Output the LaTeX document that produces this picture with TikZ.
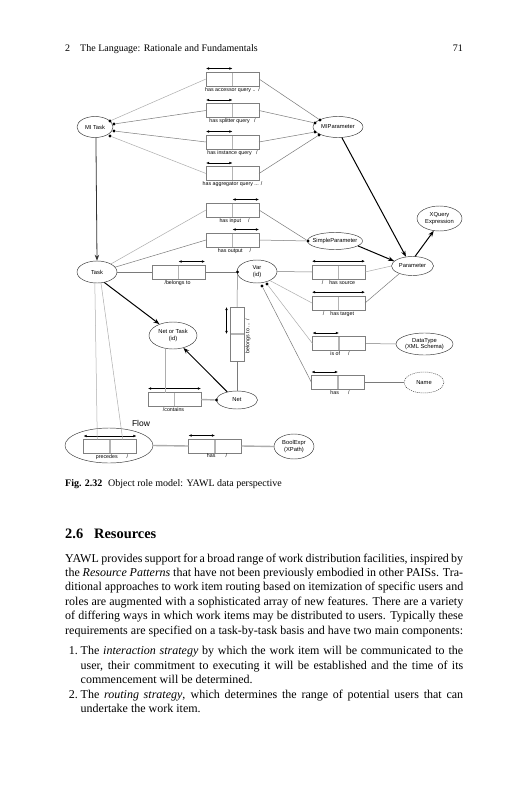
\documentclass[tikz,border=0pt]{standalone}
\usepackage{fontspec}
\setmainfont{Liberation Serif}
\newfontfamily\diagfont{Liberation Sans}
\usetikzlibrary{arrows.meta,calc,shapes.geometric}
\definecolor{boxgray}{HTML}{7F7F7F}
\definecolor{divgray}{HTML}{B4B4B4}
\definecolor{lngray}{HTML}{7A7A7A}
\definecolor{ltgray}{HTML}{ADADAD}
\begin{document}
\begin{tikzpicture}[x=1pt,y=-1pt,
  etext/.style={inner sep=0pt, align=center, font=\diagfont\fontsize{5.8}{6.6}\selectfont},
  ell/.style={ellipse, draw=black!80, line width=0.45pt, inner sep=0pt, label={[etext]center:{#1}}},
  rbox/.style={rectangle, draw=boxgray, line width=0.6pt, minimum width=53pt, minimum height=14pt, inner sep=0pt, outer sep=0pt,
    path picture={\draw[divgray, line width=1.3pt] (path picture bounding box.north) -- (path picture bounding box.south);}},
  vbox/.style={rectangle, draw=boxgray, line width=0.6pt, minimum width=14pt, minimum height=54pt, inner sep=0pt, outer sep=0pt,
    path picture={\draw[divgray, line width=1.3pt] (path picture bounding box.west) -- (path picture bounding box.east);}},
  lbl/.style={font=\diagfont\fontsize{5.3}{6}\selectfont, inner sep=0pt},
  role/.style={{Latex[length=3.2pt,width=2.6pt]}-{Latex[length=3.2pt,width=2.6pt]}, line width=0.5pt, black},
  sub/.style={-{Stealth[length=6pt,width=4.4pt]}, line width=1pt, black},
  dot/.style={circle, fill=black, inner sep=0pt, minimum size=3.4pt},
  conn/.style={draw=lngray, line width=0.5pt},
  lconn/.style={draw=ltgray, line width=0.5pt},
  tconn/.style={draw=ltgray, line width=1.4pt},
  rm/.style={inner sep=0pt, anchor=base west, font=\fontsize{12}{14.4}\selectfont},
  small/.style={inner sep=0pt, anchor=base west, font=\fontsize{10}{12}\selectfont},
]
\useasboundingbox[fill=white] (0,0) rectangle (527,800);

% ---------- running head ----------
\node[small] (hnum) at (65,51.5) {2};
\node[small] (htitle) at (80,51.5) {The Language: Rationale and Fundamentals};
\node[small, anchor=base east] (hpage) at (463,51.5) {71};

% ---------- ellipses ----------
\node[ell={MI Task}, minimum width=36pt, minimum height=21pt] (mit) at (95,127) {};
\node[ell={MIParameter}, minimum width=50pt, minimum height=21pt] (mip) at (338,127) {};
\node[ell={Task}, minimum width=40pt, minimum height=22pt] (task) at (97,272) {};
\node[ell={Var\\(id)}, minimum width=40pt, minimum height=23pt] (var) at (257,271.5) {};
\node[ell={Net or Task\\(id)}, minimum width=48pt, minimum height=27pt] (not) at (173,335.5) {};
\node[ell={Net}, minimum width=41pt, minimum height=18pt] (net) at (237,400) {};
\node[ell={}, minimum width=88pt, minimum height=35pt] (flow) at (109,445.5) {};
\node[ell={BoolExpr\\(XPath)}, minimum width=40pt, minimum height=25pt] (bool) at (294,446.5) {};
\node[ell={SimpleParameter}, minimum width=55pt, minimum height=17pt] (sp) at (335,241) {};
\node[ell={Parameter}, minimum width=42pt, minimum height=19pt] (par) at (412.5,266) {};
\node[ell={XQuery\\Expression}, minimum width=45pt, minimum height=25pt] (xq) at (439.5,218.5) {};
\node[ell={DataType\\(XML Schema)}, minimum width=57pt, minimum height=22pt] (dt) at (424.5,344) {};
\node[ell={Name}, minimum width=40pt, minimum height=21pt, dash pattern=on 1pt off 1pt] (name) at (424,382.5) {};
\node[inner sep=0pt, font=\diagfont\fontsize{8.5}{10}\selectfont] (flowlbl) at (141,423) {Flow};

% ---------- role boxes ----------
\node[rbox] (ba) at (232.5,79) {};
\node[rbox] (bb) at (232.5,110.5) {};
\node[rbox] (bc) at (232.5,142) {};
\node[rbox] (bd) at (232.5,173.5) {};
\node[rbox] (inp) at (232.5,210) {};
\node[rbox] (outp) at (232.5,240) {};
\node[rbox] (bel) at (178.5,272) {};
\node[vbox] (vb) at (237,334) {};
\node[rbox] (cont) at (174.5,399.5) {};
\node[rbox] (prec) at (110,446.5) {};
\node[rbox] (hasb) at (215,446) {};
\node[rbox] (src) at (338.5,272) {};
\node[rbox] (tgt) at (338.5,303) {};
\node[rbox] (isof) at (339,343.5) {};
\node[rbox] (hasn) at (338,382.5) {};

% role arrows
\draw[role] ([yshift=3.5pt]ba.north west) -- ([yshift=3.5pt]ba.north);
\draw[role] ([yshift=3.5pt]bb.north west) -- ([yshift=3.5pt]bb.north);
\draw[role] ([yshift=3.5pt]bc.north west) -- ([yshift=3.5pt]bc.north);
\draw[role] ([yshift=3.5pt]bd.north west) -- ([yshift=3.5pt]bd.north);
\draw[role] ([yshift=3.5pt]inp.north) -- ([yshift=3.5pt]inp.north east);
\draw[role] ([yshift=3.5pt]outp.north) -- ([yshift=3.5pt]outp.north east);
\draw[role] ([yshift=3.5pt]bel.north) -- ([yshift=3.5pt]bel.north east);
\draw[role] ([xshift=-3.5pt]vb.north west) -- ([xshift=-3.5pt]vb.west);
\draw[role] ([yshift=4pt]cont.north west) -- ([yshift=4pt]cont.north east);
\draw[role] ([yshift=3.5pt]prec.north west) -- ([yshift=3.5pt]prec.north east);
\draw[role] ([yshift=3.5pt]hasb.north west) -- ([yshift=3.5pt]hasb.north);
\draw[role] ([yshift=3.8pt]src.north west) -- ([yshift=3.8pt]src.north east);
\draw[role] ([yshift=3.8pt]tgt.north west) -- ([yshift=3.8pt]tgt.north east);
\draw[role] ([yshift=3.5pt]isof.north west) -- ([yshift=3.5pt]isof.north);
\draw[role] ([yshift=3.5pt]hasn.north west) -- ([yshift=3.5pt]hasn.north);

% role labels
\node[lbl, anchor=north] at ([yshift=-1.2pt]ba.south) {has accessor query .. \,/};
\node[lbl, anchor=north] at ([yshift=-1.2pt]bb.south) {has splitter query \ \ /};
\node[lbl, anchor=north] at ([yshift=-1.2pt]bc.south) {has instance query \ \ /};
\node[lbl, anchor=north] at ([yshift=-1.2pt]bd.south) {has aggregator query ... /};
\node[lbl, anchor=north] at ([xshift=2pt,yshift=-1.2pt]inp.south) {has input\hspace{7pt}/};
\node[lbl, anchor=north] at ([xshift=2pt,yshift=-1.2pt]outp.south) {has output\hspace{7pt}/};
\node[lbl, anchor=north] at ([xshift=-1pt,yshift=-1.2pt]bel.south) {/belongs to};
\node[lbl, rotate=90] at (248,336) {belongs to ... \,/};
\node[lbl, anchor=north] at ([xshift=-1pt,yshift=-1.2pt]cont.south) {/contains};
\node[lbl, anchor=north] at ([xshift=2pt,yshift=-1.2pt]prec.south) {precedes\hspace{9pt}/};
\node[lbl, anchor=north] at ([xshift=2pt,yshift=-0.6pt]hasb.south) {has\hspace{10pt}/};
\node[lbl, anchor=north] at ([yshift=-1.2pt]src.south) {/\hspace{6pt}has source};
\node[lbl, anchor=north] at ([yshift=-1.2pt]tgt.south) {/\hspace{6pt}has target};
\node[lbl, anchor=north] at ([xshift=1pt,yshift=-1.2pt]isof.south) {is of\hspace{8pt}/};
\node[lbl, anchor=north] at ([xshift=2pt,yshift=-1.2pt]hasn.south) {has\hspace{9pt}/};

% ---------- dots ----------
\node[dot] (d1) at (110,121) {};
\node[dot] (d2) at (114,124) {};
\node[dot] (d3) at (114,131) {};
\node[dot] (d4) at (110,136) {};
\node[dot] (e1) at (320,120) {};
\node[dot] (e2) at (315,123) {};
\node[dot] (e3) at (315,132) {};
\node[dot] (e4) at (319,135) {};
\node[dot] (v0) at (237.5,272) {};
\node[dot] (v1) at (267,284) {};
\node[dot] (v2) at (262,286) {};
\node[dot] (s0) at (308,241) {};
\node[dot] (n0) at (216.5,400) {};

% ---------- connectors ----------
\draw[lconn] (d1) -- (ba.west);
\draw[conn] (d2) -- (bb.west);
\draw[conn] (d3) -- (bc.west);
\draw[lconn] (d4) -- (bd.west);
\draw[conn] (ba.east) -- (e1);
\draw[conn] (bb.east) -- (e2);
\draw[conn] (bc.east) -- (e3);
\draw[conn] (bd.east) -- (e4);

\draw[sub, line width=0.8pt, draw=black!80] (mit.-85) -- (task.north);
\draw[sub] (mip.-70) -- (par.125);
\draw[sub] (sp.-12) -- (par.165);
\draw[sub] (par.75) -- (xq.-115);
\draw[sub] (task.-55) -- (not.140);
\draw[sub] (net.140) -- (not.-50);

\draw[lconn] (task.30) -- (inp.west);
\draw[conn] (task.15) -- (outp.west);
\draw[conn] (inp.east) -- (s0);
\draw[conn] (outp.east) -- (s0);
\draw[conn] (task.east) -- (bel.west);
\draw[conn] (bel.east) -- (v0);
\draw[conn] (v0) -- (vb.north);
\draw[conn] (vb.south) -- (net.north);
\draw[lconn] (not.-120) -- (not.-120 |- cont.north);
\draw[tconn] (cont.east) -- (n0);
\draw[lconn] (task.-101) -- ($(prec.north west)!0.26!(prec.north east)$);
\draw[lconn] (task.-70) -- ($(prec.north west)!0.74!(prec.north east)$);
\draw[tconn] (flow.east) -- (hasb.west);
\draw[tconn] (hasb.east) -- (bool.west);

\draw[conn] (var.east) -- (src.west);
\draw[lconn] (src.east) -- (par.west);
\draw[lconn] (var.-35) -- (tgt.west);
\draw[conn] (tgt.east) -- (par.-150);
\draw[lconn] (v1) -- (isof.west);
\draw[conn] (v2) -- (hasn.west);
\draw[conn] (isof.east) -- (dt.west);
\draw[conn] (hasn.east) -- (name.west);

% ---------- caption & text ----------
\node[small, font=\fontsize{10}{12}\selectfont\bfseries] (cap1) at (65,486.5) {Fig. 2.32};
\node[small] (cap2) at (108,486.5) {Object role model: YAWL data perspective};
\node[rm, font=\fontsize{14.4}{17}\selectfont\bfseries] (sec1) at (65,538) {2.6};
\node[rm, font=\fontsize{14.4}{17}\selectfont\bfseries] (sec2) at (94,538) {Resources};

\node[rm] (p1) at (65,562) {\makebox[398pt][s]{YAWL provides support for a broad range of work distribution facilities, inspired by}};
\node[rm] (p2) at (65,576.4) {\makebox[398pt][s]{the \textit{Resource Patterns} that have not been previously embodied in other PAISs. Tra-}};
\node[rm] (p3) at (65,590.8) {\makebox[398pt][s]{ditional approaches to work item routing based on itemization of specific users and}};
\node[rm] (p4) at (65,605.2) {\makebox[398pt][s]{roles are augmented with a sophisticated array of new features. There are a variety}};
\node[rm] (p5) at (65,619.6) {\makebox[398pt][s]{of differing ways in which work items may be distributed to users. Typically these}};
\node[rm] (p6) at (65,634) {\makebox[398pt][s]{requirements are specified on a task-by-task basis and have two main components:}};

\node[rm, anchor=base east] (n1) at (78,654.6) {1.};
\node[rm] (l1) at (80.5,654.6) {\makebox[382.5pt][s]{The \textit{interaction strategy} by which the work item will be communicated to the}};
\node[rm] (l2) at (80.5,669.1) {\makebox[382.5pt][s]{user, their commitment to executing it will be established and the time of its}};
\node[rm] (l3) at (80.5,683.6) {commencement will be determined.};
\node[rm, anchor=base east] (n2) at (78,698.1) {2.};
\node[rm] (l4) at (80.5,698.1) {\makebox[382.5pt][s]{The \textit{routing strategy}, which determines the range of potential users that can}};
\node[rm] (l5) at (80.5,712.6) {undertake the work item.};
\end{tikzpicture}
\end{document}
